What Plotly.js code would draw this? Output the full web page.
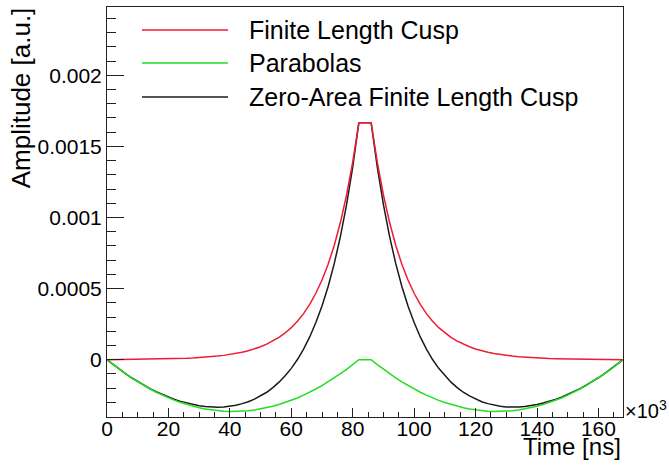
<!DOCTYPE html>
<html>
<head>
<meta charset="utf-8">
<script src="https://cdn.plot.ly/plotly-3.0.1.min.js"></script>
<style>html,body{margin:0;padding:0;background:#fff;}#chart{width:669px;height:467px;}</style>
</head>
<body>
<div id="chart"></div>
<script>
// Time in units of 10^3 ns
var timeK = [0,2,4,6,8,10,12,14,16,18,20,22,24,26,28,30,32,34,36,38,40,42,44,46,48,50,52,54,56,58,60,62,64,66,68,70,72,74,76,78,80,82,84,86,88,90,92,94,96,98,100,102,104,106,108,110,112,114,116,118,120,122,124,126,128,130,132,134,136,138,140,142,144,146,148,150,152,154,156,158,160,162,164,166,168];

var finiteLengthCusp = [0,0.0000004,0.0000007,0.0000011,0.0000015,0.0000020,0.0000026,0.0000032,0.0000040,0.0000048,0.0000058,0.0000069,0.0000083,0.0000100,0.0000121,0.0000145,0.0000175,0.0000210,0.0000252,0.0000303,0.0000364,0.0000438,0.0000526,0.0000631,0.0000757,0.0000908,0.000109,0.000131,0.000157,0.000188,0.000225,0.000270,0.000324,0.000389,0.000467,0.000560,0.000671,0.000805,0.000966,0.001158,0.001389,0.001666,0.001666,0.001666,0.001389,0.001158,0.000966,0.000805,0.000671,0.000560,0.000467,0.000389,0.000324,0.000270,0.000225,0.000188,0.000157,0.000131,0.000109,0.0000908,0.0000757,0.0000631,0.0000526,0.0000438,0.0000364,0.0000303,0.0000252,0.0000210,0.0000175,0.0000145,0.0000121,0.0000100,0.0000083,0.0000069,0.0000058,0.0000048,0.0000040,0.0000032,0.0000026,0.0000020,0.0000015,0.0000011,0.0000007,0.0000004,0];

var parabolas = [0,-0.0000347,-0.0000676,-0.0000987,-0.000128,-0.000156,-0.000182,-0.000206,-0.000229,-0.000249,-0.000269,-0.000286,-0.000301,-0.000315,-0.000327,-0.000338,-0.000346,-0.000353,-0.000359,-0.000362,-0.000364,-0.000364,-0.000362,-0.000359,-0.000353,-0.000346,-0.000338,-0.000327,-0.000315,-0.000301,-0.000286,-0.000269,-0.000249,-0.000229,-0.000206,-0.000182,-0.000156,-0.000128,-0.0000987,-0.0000676,-0.0000347,0,0,0,-0.0000347,-0.0000676,-0.0000987,-0.000128,-0.000156,-0.000182,-0.000206,-0.000229,-0.000249,-0.000269,-0.000286,-0.000301,-0.000315,-0.000327,-0.000338,-0.000346,-0.000353,-0.000359,-0.000362,-0.000364,-0.000364,-0.000362,-0.000359,-0.000353,-0.000346,-0.000338,-0.000327,-0.000315,-0.000301,-0.000286,-0.000269,-0.000249,-0.000229,-0.000206,-0.000182,-0.000156,-0.000128,-0.0000987,-0.0000676,-0.0000347,0];

var zeroAreaCusp = [0,-0.0000343,-0.0000669,-0.0000976,-0.000127,-0.000154,-0.000179,-0.000203,-0.000225,-0.000244,-0.000263,-0.000279,-0.000293,-0.000305,-0.000315,-0.000324,-0.000329,-0.000332,-0.000334,-0.000332,-0.000328,-0.000320,-0.000309,-0.000296,-0.000277,-0.000255,-0.000229,-0.000196,-0.000158,-0.000113,-0.000061,0.000001,0.000075,0.000160,0.000261,0.000378,0.000515,0.000677,0.000867,0.001090,0.001354,0.001666,0.001666,0.001666,0.001354,0.001090,0.000867,0.000677,0.000515,0.000378,0.000261,0.000160,0.000075,0.000001,-0.000061,-0.000113,-0.000158,-0.000196,-0.000229,-0.000255,-0.000277,-0.000296,-0.000309,-0.000320,-0.000328,-0.000332,-0.000334,-0.000332,-0.000329,-0.000324,-0.000315,-0.000305,-0.000293,-0.000279,-0.000263,-0.000244,-0.000225,-0.000203,-0.000179,-0.000154,-0.000127,-0.0000976,-0.0000669,-0.0000343,0];

var seriesNames = ["Finite Length Cusp", "Parabolas", "Zero-Area Finite Length Cusp"];
var seriesColors = ["#ee1c32", "#22dd22", "#1a1a1a"];

var xTickVals = [0,20,40,60,80,100,120,140,160];
var xTickText = ["0","20","40","60","80","100","120","140","160"];
var yTickVals = [0,0.0005,0.001,0.0015,0.002];
var yTickText = ["0","0.0005","0.001","0.0015","0.002"];

var FONT = "Liberation Sans, Arial, Helvetica, sans-serif";

var traces = [
  {x: timeK, y: zeroAreaCusp, name: seriesNames[2], mode: "lines", line: {color: seriesColors[2], width: 1.5}, showlegend: false},
  {x: timeK, y: parabolas, name: seriesNames[1], mode: "lines", line: {color: seriesColors[1], width: 1.5}, showlegend: false},
  {x: timeK, y: finiteLengthCusp, name: seriesNames[0], mode: "lines", line: {color: seriesColors[0], width: 1.5}, showlegend: false}
];

// Hand-placed legend (ROOT-style long line samples)
var legendRowsY = [0.9439, 0.8634, 0.7805];
var shapes = [];
var annotations = [];
for (var i = 0; i < seriesNames.length; i++) {
  shapes.push({type: "line", xref: "paper", yref: "paper", x0: 0.0678, x1: 0.2345, y0: legendRowsY[i], y1: legendRowsY[i],
               line: {color: seriesColors[i], width: 1.5}});
  annotations.push({text: seriesNames[i], xref: "paper", yref: "paper", x: 0.2713, y: legendRowsY[i],
                    xanchor: "left", yanchor: "middle", showarrow: false,
                    font: {family: FONT, size: 25, color: "#000"}});
}
annotations.push(
  {text: "Time [ns]", xref: "paper", yref: "paper", x: 1, y: -0.073, xanchor: "right", yanchor: "middle",
   showarrow: false, font: {family: FONT, size: 24, color: "#000"}},
  {text: "Amplitude [a.u.]", xref: "paper", yref: "paper", x: -0.165, y: 1.005, xanchor: "center", yanchor: "top",
   textangle: -90, showarrow: false, font: {family: FONT, size: 26, color: "#000"}},
  {text: "×10<sup>3</sup>", xref: "paper", yref: "paper", x: 1, y: 0, xanchor: "left", yanchor: "middle", yshift: 8,
   showarrow: false, font: {family: FONT, size: 20, color: "#000"}}
);

var layout = {
  width: 669, height: 467,
  margin: {l: 107, r: 46, t: 7, b: 50, pad: 0},
  paper_bgcolor: "#fff", plot_bgcolor: "#fff",
  font: {family: FONT, color: "#000", size: 21},
  showlegend: false,
  xaxis: {
    range: [0, 168], showgrid: false, zeroline: false,
    showline: true, mirror: true, linecolor: "#222", linewidth: 1,
    ticks: "inside", ticklen: 9, tickcolor: "#222", tickwidth: 1,
    tickmode: "array", tickvals: xTickVals, ticktext: xTickText,
    ticklabelstandoff: -7,
    tickfont: {family: FONT, size: 21, color: "#000"},
    minor: {ticks: "inside", ticklen: 5, tickcolor: "#222", tickwidth: 1, tickmode: "linear", tick0: 0, dtick: 5, showgrid: false}
  },
  yaxis: {
    range: [-0.000403, 0.00248], showgrid: false, zeroline: false,
    showline: true, mirror: true, linecolor: "#222", linewidth: 1,
    ticks: "inside", ticklen: 17, tickcolor: "#222", tickwidth: 1,
    tickmode: "array", tickvals: yTickVals, ticktext: yTickText,
    tickfont: {family: FONT, size: 21, color: "#000"},
    minor: {ticks: "inside", ticklen: 9, tickcolor: "#222", tickwidth: 1, tickmode: "linear", tick0: 0, dtick: 0.0001, showgrid: false}
  },
  shapes: shapes,
  annotations: annotations
};

Plotly.newPlot("chart", traces, layout, {displayModeBar: false, staticPlot: true});
</script>
</body>
</html>
